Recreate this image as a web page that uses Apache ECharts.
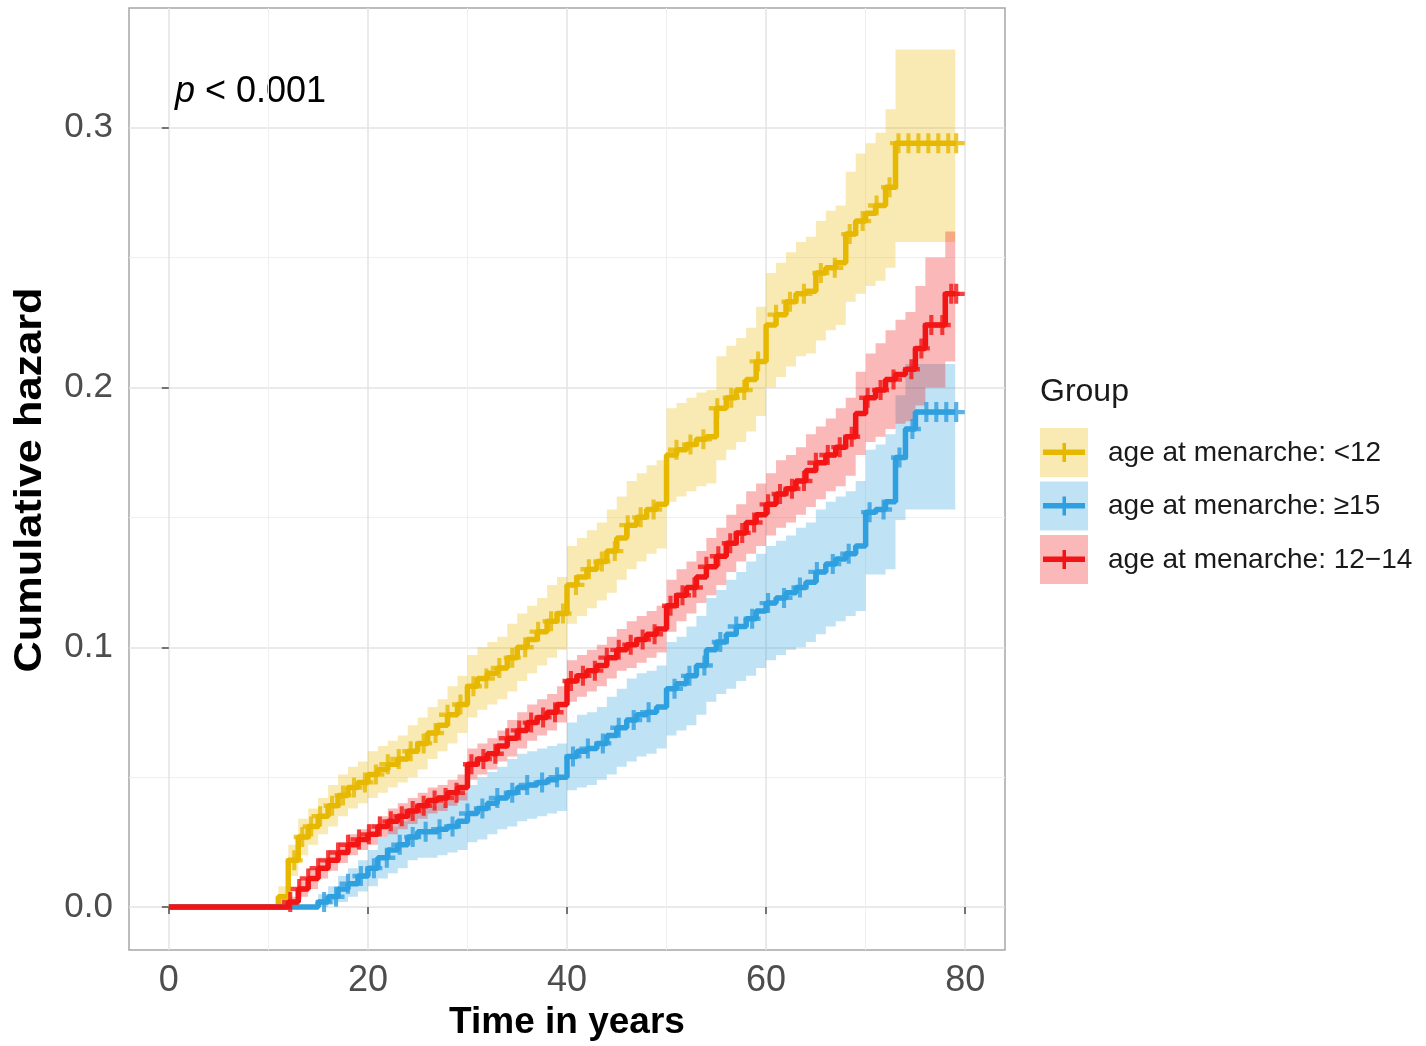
<!DOCTYPE html>
<html>
<head>
<meta charset="utf-8">
<script src="https://cdn.jsdelivr.net/npm/echarts@6/dist/echarts.min.js"></script>
<style>
  html, body { margin: 0; background: #fff; }
  #main { width: 1426px; height: 1046px; }
</style>
</head>
<body>
<div id="main"></div>
<script>
// step times (years); each value holds from its time to the next one
var times = [0, 11, 12, 13, 14, 15, 16, 17, 18, 19, 20, 21, 22, 23, 24, 25, 26, 27, 28, 29,
  30, 31, 32, 33, 34, 35, 36, 37, 38, 39, 40, 41, 42, 43, 44, 45, 46, 47, 48, 49,
  50, 51, 52, 53, 54, 55, 56, 57, 58, 59, 60, 61, 62, 63, 64, 65, 66, 67, 68, 69,
  70, 71, 72, 73, 74, 75, 76, 77, 78, 79];

// age at menarche: <12
var hazLt12 = [0, 0.004, 0.018, 0.027, 0.031, 0.035, 0.039, 0.043, 0.046, 0.048, 0.051, 0.053, 0.055, 0.057, 0.060, 0.063, 0.067, 0.070, 0.074, 0.078,
  0.085, 0.088, 0.090, 0.092, 0.096, 0.100, 0.103, 0.106, 0.110, 0.113, 0.124, 0.127, 0.130, 0.133, 0.137, 0.142, 0.147, 0.150, 0.153, 0.155,
  0.174, 0.176, 0.178, 0.180, 0.181, 0.192, 0.196, 0.199, 0.203, 0.210, 0.224, 0.228, 0.233, 0.236, 0.237, 0.244, 0.246, 0.248, 0.259, 0.264,
  0.267, 0.270, 0.277, 0.294, 0.294, 0.294, 0.294, 0.294, 0.294, 0.294];
var lowLt12 = [0, 0.001, 0.012, 0.020, 0.024, 0.028, 0.031, 0.035, 0.038, 0.040, 0.042, 0.044, 0.046, 0.048, 0.050, 0.053, 0.057, 0.060, 0.063, 0.067,
  0.073, 0.076, 0.078, 0.080, 0.083, 0.087, 0.090, 0.093, 0.096, 0.099, 0.109, 0.112, 0.115, 0.118, 0.121, 0.126, 0.130, 0.133, 0.136, 0.138,
  0.156, 0.158, 0.160, 0.162, 0.163, 0.172, 0.176, 0.179, 0.183, 0.189, 0.200, 0.204, 0.208, 0.212, 0.213, 0.218, 0.222, 0.224, 0.233, 0.236,
  0.239, 0.241, 0.246, 0.256, 0.256, 0.256, 0.256, 0.256, 0.256, 0.256];
var upLt12 = [0, 0.008, 0.024, 0.034, 0.038, 0.042, 0.047, 0.051, 0.054, 0.056, 0.060, 0.062, 0.064, 0.066, 0.070, 0.073, 0.077, 0.080, 0.085, 0.089,
  0.097, 0.100, 0.102, 0.104, 0.109, 0.113, 0.116, 0.119, 0.124, 0.127, 0.139, 0.142, 0.145, 0.148, 0.153, 0.158, 0.164, 0.167, 0.170, 0.172,
  0.192, 0.194, 0.196, 0.198, 0.199, 0.212, 0.216, 0.219, 0.223, 0.231, 0.244, 0.248, 0.252, 0.256, 0.258, 0.264, 0.268, 0.270, 0.283, 0.290,
  0.294, 0.298, 0.307, 0.330, 0.330, 0.330, 0.330, 0.330, 0.330, 0.330];
var censLt12 = [12.6, 13.4, 14.3, 15.2, 16.4, 17.5, 18.6, 19.7, 20.8, 22.0, 23.1, 24.3, 25.6, 26.8, 28.0, 29.3, 30.6, 31.9, 33.2, 34.5,
  35.8, 37.1, 38.4, 39.6, 40.9, 42.2, 43.5, 44.8, 46.1, 47.4, 48.7, 51.0, 52.4, 53.7, 55.1, 56.5, 57.8, 59.2, 61.0, 62.4,
  63.8, 65.5, 66.9, 68.4, 69.7, 71.1, 72.4, 73.3, 74.3, 75.3, 76.3, 77.3, 78.3, 79.1];

// age at menarche: >=15
var hazGe15 = [0, 0, 0, 0, 0, 0.002, 0.004, 0.007, 0.009, 0.012, 0.015, 0.019, 0.022, 0.024, 0.027, 0.029, 0.029, 0.030, 0.031, 0.033,
  0.036, 0.038, 0.040, 0.042, 0.044, 0.046, 0.047, 0.048, 0.049, 0.050, 0.058, 0.060, 0.061, 0.063, 0.066, 0.069, 0.072, 0.074, 0.075, 0.077,
  0.084, 0.086, 0.089, 0.093, 0.099, 0.102, 0.105, 0.108, 0.111, 0.114, 0.117, 0.119, 0.121, 0.123, 0.125, 0.129, 0.132, 0.134, 0.136, 0.139,
  0.152, 0.153, 0.156, 0.173, 0.184, 0.1905, 0.1905, 0.1905, 0.1905, 0.1905];
var lowGe15 = [0, 0, 0, 0, 0, 0.000, 0.001, 0.002, 0.004, 0.006, 0.008, 0.011, 0.013, 0.015, 0.018, 0.019, 0.019, 0.020, 0.021, 0.022,
  0.025, 0.026, 0.028, 0.030, 0.031, 0.033, 0.034, 0.035, 0.036, 0.037, 0.045, 0.046, 0.047, 0.049, 0.051, 0.054, 0.056, 0.058, 0.059, 0.061,
  0.066, 0.068, 0.070, 0.074, 0.079, 0.082, 0.084, 0.087, 0.089, 0.092, 0.095, 0.097, 0.099, 0.100, 0.102, 0.105, 0.108, 0.110, 0.112, 0.114,
  0.128, 0.128, 0.130, 0.149, 0.153, 0.153, 0.153, 0.153, 0.153, 0.153];
var upGe15 = [0, 0, 0, 0, 0, 0.005, 0.008, 0.012, 0.015, 0.018, 0.022, 0.027, 0.031, 0.033, 0.036, 0.039, 0.039, 0.040, 0.041, 0.044,
  0.047, 0.050, 0.052, 0.054, 0.057, 0.059, 0.060, 0.061, 0.062, 0.063, 0.071, 0.074, 0.075, 0.077, 0.081, 0.084, 0.088, 0.090, 0.091, 0.093,
  0.102, 0.104, 0.108, 0.112, 0.119, 0.122, 0.126, 0.129, 0.133, 0.136, 0.139, 0.141, 0.143, 0.146, 0.148, 0.153, 0.156, 0.158, 0.160, 0.164,
  0.176, 0.178, 0.182, 0.197, 0.209, 0.209, 0.209, 0.209, 0.209, 0.209];
var censGe15 = [15.6, 16.8, 18.0, 19.3, 20.6, 21.9, 23.2, 24.5, 25.8, 27.2, 28.5, 30.0, 31.5, 33.0, 34.5, 36.0, 37.5, 39.0, 40.6, 42.1,
  43.6, 45.2, 46.7, 48.2, 50.8, 52.3, 53.8, 55.4, 57.0, 58.6, 60.2, 61.8, 63.4, 65.1, 66.7, 68.3, 70.4, 71.8, 73.4, 74.7,
  76.1, 77.1, 78.1, 79.1];

// age at menarche: 12-14
var haz1214 = [0, 0, 0.002, 0.007, 0.011, 0.015, 0.018, 0.021, 0.024, 0.026, 0.028, 0.031, 0.033, 0.035, 0.037, 0.039, 0.041, 0.042, 0.044, 0.046,
  0.055, 0.057, 0.059, 0.062, 0.065, 0.068, 0.071, 0.073, 0.075, 0.078, 0.087, 0.089, 0.091, 0.093, 0.096, 0.099, 0.101, 0.103, 0.105, 0.107,
  0.116, 0.120, 0.123, 0.127, 0.131, 0.135, 0.140, 0.144, 0.148, 0.151, 0.155, 0.159, 0.161, 0.164, 0.168, 0.171, 0.174, 0.177, 0.181, 0.190,
  0.196, 0.199, 0.203, 0.205, 0.207, 0.215, 0.224, 0.224, 0.236, 0.236];
var low1214 = [0, 0, 0.000, 0.004, 0.007, 0.011, 0.014, 0.017, 0.020, 0.022, 0.024, 0.027, 0.028, 0.030, 0.032, 0.034, 0.036, 0.037, 0.039, 0.041,
  0.049, 0.051, 0.053, 0.056, 0.058, 0.061, 0.064, 0.066, 0.068, 0.071, 0.079, 0.081, 0.083, 0.085, 0.088, 0.091, 0.092, 0.094, 0.096, 0.098,
  0.106, 0.110, 0.113, 0.117, 0.120, 0.124, 0.129, 0.133, 0.136, 0.139, 0.143, 0.146, 0.148, 0.151, 0.154, 0.157, 0.160, 0.162, 0.166, 0.174,
  0.179, 0.181, 0.184, 0.186, 0.187, 0.193, 0.200, 0.200, 0.210, 0.210];
var up1214 = [0, 0, 0.004, 0.010, 0.015, 0.019, 0.022, 0.025, 0.028, 0.030, 0.032, 0.035, 0.038, 0.040, 0.042, 0.044, 0.046, 0.047, 0.049, 0.051,
  0.061, 0.063, 0.065, 0.068, 0.072, 0.075, 0.078, 0.080, 0.082, 0.085, 0.095, 0.097, 0.099, 0.101, 0.104, 0.107, 0.110, 0.112, 0.114, 0.116,
  0.126, 0.130, 0.133, 0.137, 0.142, 0.146, 0.151, 0.155, 0.160, 0.163, 0.167, 0.172, 0.174, 0.177, 0.182, 0.185, 0.188, 0.192, 0.196, 0.206,
  0.213, 0.217, 0.222, 0.226, 0.229, 0.239, 0.250, 0.250, 0.260, 0.260];
var cens1214 = [12.2, 13.1, 14.0, 15.0, 16.0, 17.0, 18.0, 19.1, 20.1, 21.2, 22.3, 23.4, 24.5, 25.6, 26.7, 27.8, 28.9, 30.4, 31.6, 32.8,
  34.0, 35.2, 36.4, 37.6, 38.8, 40.4, 41.6, 42.8, 44.0, 45.2, 46.4, 47.6, 48.8, 50.4, 51.6, 52.8, 54.0, 55.2, 56.4, 57.6,
  58.8, 60.2, 61.4, 62.6, 63.8, 65.0, 66.2, 67.4, 68.6, 70.2, 71.5, 72.8, 74.6, 75.6, 76.6, 77.7, 78.6, 79.1];

var groupNames = ['age at menarche: <12', 'age at menarche: \u226515', 'age at menarche: 12\u221214'];
var xTicks = [0, 20, 40, 60, 80];
var xMinor = [10, 30, 50, 70];
var yTicks = [0, 0.1, 0.2, 0.3];
var yMinor = [0.05, 0.15, 0.25];

var font = '"Liberation Sans", Arial, sans-serif';
var colors = ['#E7B800', '#2E9FDF', '#F21414'];
var bandColors = ['rgba(231,184,0,0.3)', 'rgba(46,159,223,0.3)', 'rgba(242,20,20,0.3)'];
var plus = 'path://M0,3.9 L10,3.9 L10,6.1 L0,6.1 Z M3.8,0 L6.2,0 L6.2,10 L3.8,10 Z';

var groups = [
  { haz: hazLt12, low: lowLt12, up: upLt12, cens: censLt12 },
  { haz: hazGe15, low: lowGe15, up: upGe15, cens: censGe15 },
  { haz: haz1214, low: low1214, up: up1214, cens: cens1214 }
];

function valueAt(vals, t) {
  var v = vals[0];
  for (var i = 0; i < times.length; i++) {
    if (times[i] <= t) v = vals[i];
  }
  return v;
}

var series = [];
groups.forEach(function (g, k) {
  // confidence band as a step polygon
  series.push({
    type: 'custom',
    silent: true,
    z: 1,
    data: [[0, 0]],
    renderItem: function (params, api) {
      var top = [], bot = [];
      for (var i = 0; i < times.length; i++) {
        var t0 = times[i];
        var t1 = i + 1 < times.length ? times[i + 1] : times[i];
        top.push(api.coord([t0, g.up[i]]), api.coord([t1, g.up[i]]));
        bot.push(api.coord([t0, g.low[i]]), api.coord([t1, g.low[i]]));
      }
      return {
        type: 'polygon',
        shape: { points: top.concat(bot.reverse()) },
        style: { fill: bandColors[k] }
      };
    }
  });
});
groups.forEach(function (g, k) {
  series.push({
    name: groupNames[k],
    type: 'line',
    step: 'end',
    showSymbol: false,
    silent: true,
    z: 3,
    lineStyle: { color: colors[k], width: 5.5 },
    data: times.map(function (t, i) { return [t, g.haz[i]]; })
  });
});
groups.forEach(function (g, k) {
  series.push({
    type: 'scatter',
    symbol: plus,
    symbolSize: [17, 20],
    silent: true,
    z: 4,
    itemStyle: { color: colors[k] },
    data: g.cens.map(function (t) { return [t, valueAt(g.haz, t)]; })
  });
});

// legend keys drawn as graphics
var legendGraphics = [{
  type: 'text', x: 1040, y: 392,
  style: { text: 'Group', font: '32px ' + font, fill: '#1a1a1a', textVerticalAlign: 'middle' }
}];
groupNames.forEach(function (name, k) {
  var y0 = 428 + k * 53.5;
  legendGraphics.push(
    { type: 'rect', shape: { x: 1040, y: y0, width: 48, height: 49 }, style: { fill: bandColors[k] } },
    { type: 'rect', shape: { x: 1043, y: y0 + 21.5, width: 42, height: 5.5 }, style: { fill: colors[k] } },
    { type: 'rect', shape: { x: 1062.5, y: y0 + 15, width: 3.5, height: 19 }, style: { fill: colors[k] } },
    { type: 'text', x: 1108, y: y0 + 25, style: { text: name, font: '28px ' + font, fill: '#1a1a1a', textVerticalAlign: 'middle' } }
  );
});

var chart = echarts.init(document.getElementById('main'));
chart.setOption({
  animation: false,
  backgroundColor: '#fff',
  grid: { left: 129, top: 8, width: 876, height: 944, show: true, borderColor: '#a6a6a6', borderWidth: 1.5, backgroundColor: '#fff' },
  xAxis: [{
    type: 'value', min: -4, max: 84,
    name: 'Time in years', nameLocation: 'middle', nameGap: 54,
    nameTextStyle: { fontSize: 37, fontWeight: 'bold', color: '#000', fontFamily: font },
    axisLine: { show: false },
    axisTick: { customValues: xTicks, length: 7, lineStyle: { color: '#4d4d4d', width: 1.5 } },
    axisLabel: { customValues: xTicks, fontSize: 36, color: '#4d4d4d', margin: 13, fontFamily: font },
    splitLine: { lineStyle: { color: '#e3e3e3', width: 1.5 } }
  }, {
    type: 'value', min: -4, max: 84, position: 'bottom',
    axisLine: { show: false },
    axisTick: { show: false, customValues: xMinor },
    axisLabel: { show: false, customValues: xMinor },
    splitLine: { lineStyle: { color: '#efefef', width: 1 } }
  }],
  yAxis: [{
    type: 'value', min: -0.0165, max: 0.346,
    axisLine: { show: false },
    axisTick: { customValues: yTicks, length: 7, lineStyle: { color: '#4d4d4d', width: 1.5 } },
    axisLabel: {
      customValues: yTicks, fontSize: 35, color: '#4d4d4d', margin: 16, fontFamily: font,
      formatter: function (v) { return v.toFixed(1); }
    },
    splitLine: { lineStyle: { color: '#e3e3e3', width: 1.5 } }
  }, {
    type: 'value', min: -0.0165, max: 0.346, position: 'left',
    axisLine: { show: false },
    axisTick: { show: false, customValues: yMinor },
    axisLabel: { show: false, customValues: yMinor },
    splitLine: { lineStyle: { color: '#efefef', width: 1 } }
  }],
  graphic: legendGraphics.concat([{
    // y axis title, stretched along its length like the original
    type: 'text', x: 31, y: 480, rotation: Math.PI / 2, scaleX: 1.14,
    style: {
      text: 'Cumulative hazard', font: 'bold 38px ' + font, fill: '#000',
      textAlign: 'center', textVerticalAlign: 'middle'
    }
  }, {
    type: 'text', left: 175, top: 74,
    style: {
      text: '{i|p} < 0.001',
      font: '36px ' + font, fill: '#000',
      rich: { i: { fontStyle: 'italic', fontSize: 36, fontFamily: font } }
    }
  }]),
  series: series
});
</script>
</body>
</html>
